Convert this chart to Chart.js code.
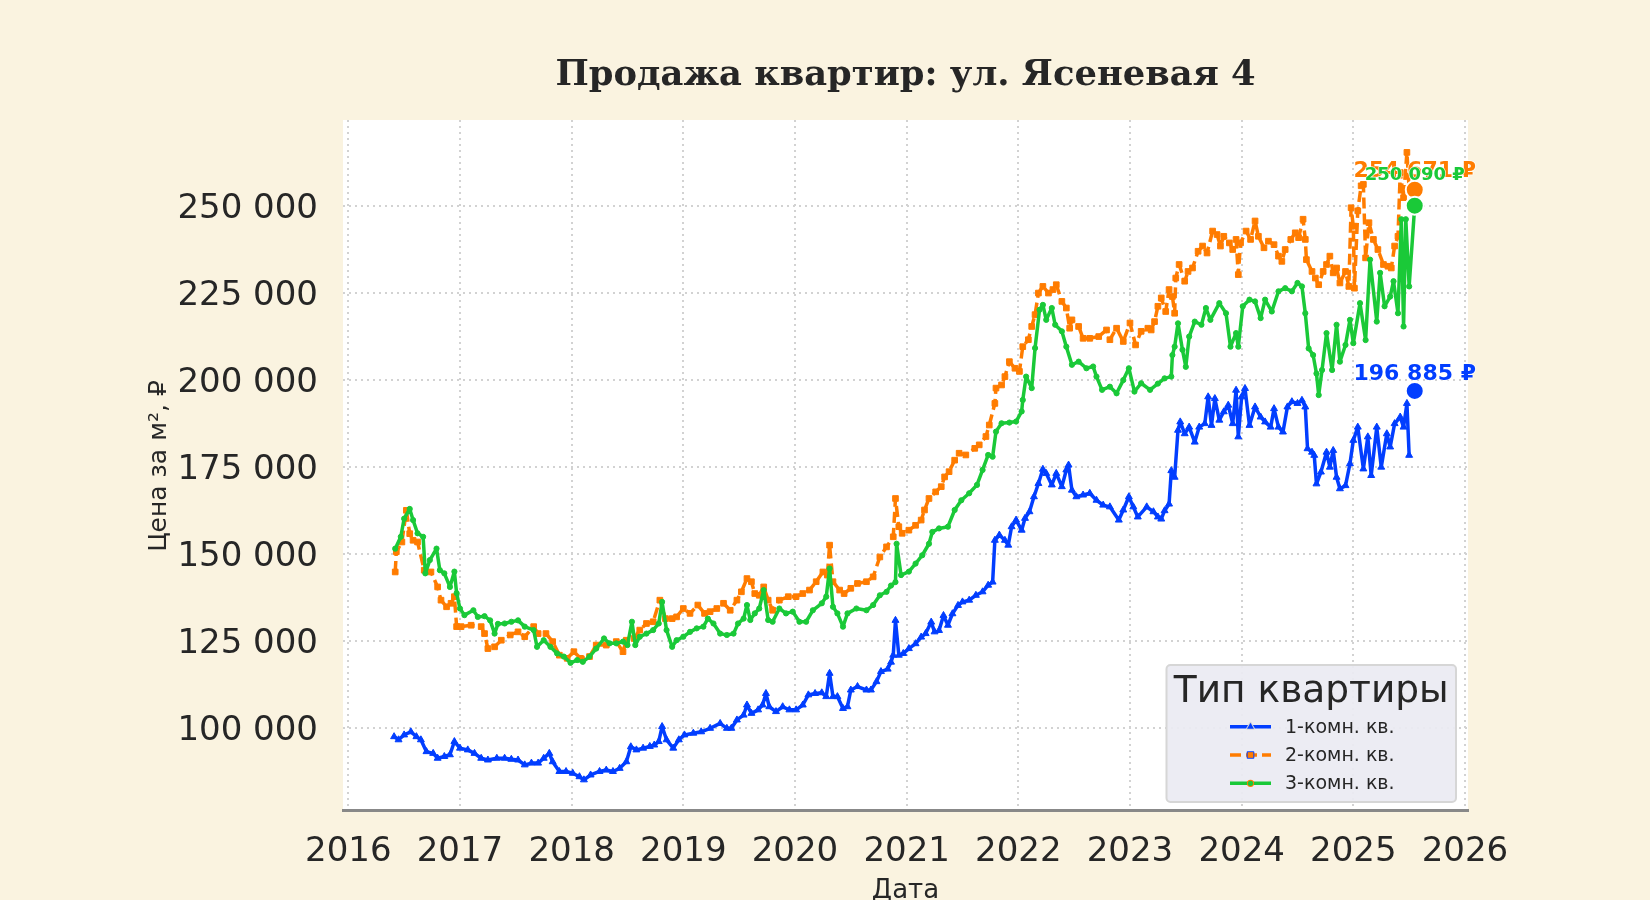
<!DOCTYPE html>
<html lang="ru">
<head>
<meta charset="utf-8">
<title>Продажа квартир: ул. Ясеневая 4</title>
<script src="https://cdn.jsdelivr.net/npm/chart.js@4.4.1/dist/chart.umd.min.js"></script>
<style>
  html, body { margin: 0; padding: 0; background: #faf3e0; overflow: hidden; }
  canvas { display: block; }
</style>
</head>
<body>
<canvas id="chart" width="1650" height="900"></canvas>
<script>
const titleText = "Продажа квартир: ул. Ясеневая 4";
const xTitle = "Дата";
const yTitle = "Цена за м², ₽";
const legendTitle = "Тип квартиры";
const seriesNames = ["1-комн. кв.", "2-комн. кв.", "3-комн. кв."];

const xTicks = [2016, 2017, 2018, 2019, 2020, 2021, 2022, 2023, 2024, 2025, 2026];
const yTicks = [100000, 125000, 150000, 175000, 200000, 225000, 250000];

// 1-комн.
const dates1 = [
  2016.41, 2016.45, 2016.50, 2016.56, 2016.61, 2016.65, 2016.70, 2016.76, 2016.80, 2016.86, 2016.91, 2016.95,
  2017.00, 2017.07, 2017.13, 2017.19, 2017.25, 2017.33, 2017.40, 2017.46, 2017.52, 2017.58, 2017.64, 2017.70,
  2017.75, 2017.80, 2017.83, 2017.89, 2017.95, 2018.01, 2018.07, 2018.11, 2018.17, 2018.25, 2018.31, 2018.37,
  2018.43, 2018.49, 2018.53, 2018.58, 2018.64, 2018.70, 2018.74, 2018.78, 2018.81, 2018.85, 2018.91, 2018.96,
  2019.01, 2019.09, 2019.16, 2019.24, 2019.33, 2019.39, 2019.43, 2019.48, 2019.54, 2019.57, 2019.61, 2019.67,
  2019.71, 2019.74, 2019.77, 2019.83, 2019.89, 2019.95, 2020.01, 2020.07, 2020.12, 2020.18, 2020.24, 2020.28,
  2020.31, 2020.34, 2020.38, 2020.43, 2020.47, 2020.50, 2020.56, 2020.64, 2020.68, 2020.73, 2020.77, 2020.83,
  2020.86, 2020.88, 2020.90, 2020.93, 2020.97, 2021.02, 2021.08, 2021.13, 2021.17, 2021.22, 2021.25, 2021.29,
  2021.33, 2021.37, 2021.41, 2021.46, 2021.50, 2021.56, 2021.62, 2021.68, 2021.73, 2021.77, 2021.79, 2021.83,
  2021.88, 2021.91, 2021.94, 2021.98, 2022.03, 2022.06, 2022.10, 2022.14, 2022.18, 2022.22, 2022.25, 2022.30,
  2022.34, 2022.39, 2022.43, 2022.45, 2022.48, 2022.52, 2022.58, 2022.64, 2022.70, 2022.76, 2022.82, 2022.90,
  2022.94, 2022.99, 2023.03, 2023.07, 2023.15, 2023.21, 2023.25, 2023.28, 2023.31, 2023.35, 2023.37, 2023.40,
  2023.43, 2023.45, 2023.49, 2023.53, 2023.58, 2023.62, 2023.67, 2023.70, 2023.73, 2023.76, 2023.80, 2023.84,
  2023.88, 2023.92, 2023.95, 2023.97, 2024.00, 2024.03, 2024.07, 2024.12, 2024.17, 2024.21, 2024.26, 2024.29,
  2024.33, 2024.37, 2024.41, 2024.45, 2024.50, 2024.54, 2024.57, 2024.59, 2024.63, 2024.65, 2024.67, 2024.71,
  2024.76, 2024.79, 2024.82, 2024.85, 2024.88, 2024.93, 2024.97, 2025.00, 2025.04, 2025.09, 2025.13, 2025.16,
  2025.21, 2025.25, 2025.30, 2025.33, 2025.37, 2025.42, 2025.45, 2025.48, 2025.50
];
const prices1 = [
  97600, 96700, 98100, 99000, 97600, 96700, 93300, 92800, 91400, 91900, 92400, 96200,
  94300, 93800, 92800, 91400, 90900, 91400, 91400, 91100, 90900, 89500, 90000, 90000,
  91400, 92800, 90400, 87600, 87600, 87100, 86100, 85200, 86600, 87600, 88000, 87600,
  88500, 90400, 94700, 93800, 94300, 94800, 95200, 96200, 100500, 96700, 94300, 96700,
  98100, 98600, 99000, 100000, 101400, 100000, 100000, 102400, 103800, 106700, 104300, 105300,
  106700, 110000, 106200, 104800, 106200, 105300, 105300, 106700, 109600, 110000, 110200, 109100,
  115800, 109100, 109100, 105700, 106200, 111000, 112000, 111000, 111000, 113400, 116300, 117000,
  119000, 121000, 131000, 121000, 121500, 122900, 124300, 126200, 127200, 130500, 127700, 128100,
  132400, 129600, 132900, 135300, 136300, 136800, 138200, 139200, 141100, 142000, 154000, 155500,
  154000, 152600, 157900, 159800, 156900, 160300, 162200, 166500, 170300, 174400, 173200, 169900,
  173200, 169400, 174200, 175600, 168400, 166500, 167000, 167500, 165500, 164100, 163600, 159800,
  162700, 166500, 163600, 160700, 163600, 162200, 160700, 160100, 162500, 164400, 174000, 172100,
  185600, 188000, 184600, 186500, 182200, 186500, 187500, 195200, 187000, 194700, 188500, 190900,
  192800, 187500, 197100, 183700, 195200, 197600, 187000, 192300, 189400, 188000, 186500, 191800,
  186500, 185100, 192300, 193800, 193300, 194200, 192300, 180300, 179300, 178400, 170200, 173600,
  179300, 175000, 179800, 172100, 168800, 169700, 176000, 182700, 186500, 174500, 183700, 172600,
  186500, 175000, 184600, 180800, 187500, 189400, 186500, 193300, 178400
];

// 2-комн.
const dates2 = [
  2016.42, 2016.43, 2016.48, 2016.52, 2016.55, 2016.58, 2016.62, 2016.68, 2016.74, 2016.80, 2016.83, 2016.88,
  2016.92, 2016.95, 2016.97, 2017.01, 2017.10, 2017.19, 2017.22, 2017.25, 2017.31, 2017.37, 2017.45, 2017.52,
  2017.58, 2017.66, 2017.70, 2017.77, 2017.83, 2017.89, 2017.96, 2018.02, 2018.08, 2018.16, 2018.22, 2018.31,
  2018.40, 2018.46, 2018.49, 2018.56, 2018.61, 2018.67, 2018.73, 2018.79, 2018.84, 2018.90, 2018.94, 2019.00,
  2019.06, 2019.13, 2019.19, 2019.24, 2019.30, 2019.36, 2019.42, 2019.48, 2019.52, 2019.57, 2019.61, 2019.64,
  2019.68, 2019.72, 2019.76, 2019.80, 2019.86, 2019.94, 2020.01, 2020.07, 2020.13, 2020.19, 2020.25, 2020.29,
  2020.31, 2020.34, 2020.40, 2020.44, 2020.50, 2020.56, 2020.64, 2020.70, 2020.76, 2020.82, 2020.88, 2020.90,
  2020.93, 2020.96, 2021.02, 2021.08, 2021.13, 2021.16, 2021.20, 2021.26, 2021.31, 2021.34, 2021.38, 2021.43,
  2021.47, 2021.53, 2021.61, 2021.65, 2021.71, 2021.74, 2021.79, 2021.80, 2021.85, 2021.88, 2021.92, 2021.97,
  2022.01, 2022.04, 2022.09, 2022.12, 2022.15, 2022.18, 2022.22, 2022.27, 2022.31, 2022.34, 2022.39, 2022.43,
  2022.46, 2022.48, 2022.54, 2022.58, 2022.64, 2022.72, 2022.79, 2022.82, 2022.88, 2022.94, 2023.00, 2023.05,
  2023.10, 2023.16, 2023.19, 2023.22, 2023.25, 2023.28, 2023.32, 2023.35, 2023.38, 2023.40, 2023.41, 2023.44,
  2023.49, 2023.52, 2023.56, 2023.61, 2023.65, 2023.69, 2023.74, 2023.78, 2023.81, 2023.84, 2023.89, 2023.92,
  2023.95, 2023.97, 2023.99, 2024.04, 2024.08, 2024.12, 2024.15, 2024.20, 2024.24, 2024.29, 2024.33, 2024.36,
  2024.39, 2024.44, 2024.48, 2024.51, 2024.55, 2024.57, 2024.58, 2024.63, 2024.66, 2024.69, 2024.73, 2024.76,
  2024.79, 2024.82, 2024.85, 2024.88, 2024.93, 2024.96, 2024.98, 2025.00, 2025.01, 2025.04, 2025.07, 2025.09,
  2025.11, 2025.14, 2025.18, 2025.22, 2025.27, 2025.31, 2025.34, 2025.37, 2025.40, 2025.42, 2025.45, 2025.48,
  2025.50, 2025.55
];
const prices2 = [
  144900, 150700, 153500, 162600, 155900, 154000, 153500, 145400, 144900, 140600, 136800, 134900,
  135900, 137800, 129200, 129200, 129600, 129200, 127200, 122900, 123400, 125300, 126800, 127700,
  126300, 129200, 127200, 127200, 124900, 121000, 120100, 122000, 120100, 120600, 123900, 123900,
  124900, 122000, 125300, 125800, 128200, 130100, 130600, 136800, 131500, 131500, 132000, 134400,
  133000, 135400, 133000, 133500, 134400, 135900, 133900, 136800, 139200, 143000, 142100, 138700,
  138200, 140600, 136800, 133900, 136800, 137800, 137800, 138700, 139700, 142100, 144900, 144000,
  152600, 142100, 139700, 138700, 140200, 141600, 142100, 143500, 149200, 152100, 155000, 166000,
  157900, 156000, 156900, 158300, 159800, 162700, 166000, 167900, 169400, 172200, 173700, 177000,
  179000, 178500, 180400, 181400, 183800, 187100, 193300, 197700, 198600, 201000, 205300, 203400,
  202500, 209600, 211600, 215400, 218800, 225000, 226900, 225000, 226000, 227400, 222600, 220700,
  214900, 217300, 215400, 212000, 212000, 212500, 214400, 211600, 214900, 211100, 216400, 210100,
  214000, 214900, 214400, 216800, 221200, 223600, 219700, 226000, 224000, 219200, 229300, 233200,
  228400, 231200, 232200, 237000, 238500, 236500, 242800, 241800, 238500, 241300, 239400, 237500,
  240400, 230300, 239400, 242800, 240400, 245700, 241300, 238000, 239900, 238900, 235600, 234100,
  237500, 240400, 242300, 240900, 246200, 240400, 234600, 231200, 229300, 227400, 231200, 233200,
  235600, 230800, 232200, 227900, 231200, 226900, 249500, 244200, 226400, 248600, 255800, 256200,
  235100, 245200, 240400, 237500, 233200, 232700, 232200, 238500, 241300, 259600, 252400, 265400,
  254800, 254671
];

// 3-комн.
const dates3 = [
  2016.42, 2016.47, 2016.50, 2016.55, 2016.58, 2016.62, 2016.67, 2016.69, 2016.73, 2016.79, 2016.82, 2016.86,
  2016.91, 2016.95, 2016.97, 2017.00, 2017.04, 2017.12, 2017.16, 2017.22, 2017.27, 2017.31, 2017.34, 2017.40,
  2017.46, 2017.52, 2017.58, 2017.66, 2017.69, 2017.75, 2017.81, 2017.87, 2017.93, 2017.99, 2018.05, 2018.10,
  2018.16, 2018.22, 2018.29, 2018.34, 2018.40, 2018.46, 2018.50, 2018.54, 2018.57, 2018.61, 2018.67, 2018.73,
  2018.78, 2018.81, 2018.85, 2018.90, 2018.94, 2019.00, 2019.06, 2019.12, 2019.18, 2019.22, 2019.27, 2019.33,
  2019.39, 2019.45, 2019.49, 2019.54, 2019.57, 2019.60, 2019.64, 2019.68, 2019.72, 2019.76, 2019.80, 2019.86,
  2019.92, 2019.98, 2020.04, 2020.10, 2020.16, 2020.24, 2020.28, 2020.31, 2020.34, 2020.38, 2020.43, 2020.47,
  2020.55, 2020.64, 2020.70, 2020.76, 2020.82, 2020.86, 2020.90, 2020.91, 2020.95, 2021.02, 2021.08, 2021.14,
  2021.20, 2021.23, 2021.29, 2021.37, 2021.43, 2021.49, 2021.56, 2021.63, 2021.68, 2021.73, 2021.77, 2021.80,
  2021.85, 2021.92, 2021.98, 2022.03, 2022.04, 2022.07, 2022.12, 2022.15, 2022.19, 2022.22, 2022.25, 2022.30,
  2022.33, 2022.39, 2022.43, 2022.48, 2022.54, 2022.61, 2022.67, 2022.70, 2022.75, 2022.82, 2022.88, 2022.94,
  2022.99, 2023.04, 2023.10, 2023.18, 2023.25, 2023.31, 2023.37, 2023.38, 2023.40, 2023.43, 2023.47, 2023.50,
  2023.53, 2023.58, 2023.64, 2023.68, 2023.72, 2023.80, 2023.86, 2023.90, 2023.95, 2023.97, 2024.01, 2024.07,
  2024.12, 2024.17, 2024.21, 2024.27, 2024.33, 2024.39, 2024.45, 2024.50, 2024.54, 2024.57, 2024.60, 2024.64,
  2024.67, 2024.69, 2024.72, 2024.76, 2024.81, 2024.85, 2024.88, 2024.93, 2024.97, 2025.00, 2025.06, 2025.11,
  2025.15, 2025.21, 2025.24, 2025.28, 2025.33, 2025.36, 2025.40, 2025.43, 2025.45, 2025.47, 2025.50, 2025.55
];
const prices3 = [
  151600, 155000, 160200, 163000, 159800, 156000, 155000, 144500, 148300, 151600, 145400, 144500,
  140600, 145000, 138800, 134400, 132500, 133900, 132000, 132200, 131000, 127200, 130000, 130100,
  130600, 131000, 129200, 128200, 123400, 125300, 123400, 121500, 120600, 118800, 119600, 119100,
  120600, 122900, 125800, 124400, 124400, 124900, 123900, 130600, 123900, 126300, 127200, 128200,
  130100, 136300, 128200, 123400, 125300, 126300, 127700, 128700, 129200, 131500, 130100, 127200,
  126800, 127200, 130100, 131500, 135400, 131100, 133000, 134400, 139700, 131100, 130600, 134400,
  133000, 133500, 130600, 130600, 133900, 135900, 137800, 145900, 134900, 133000, 129200, 133000,
  134400, 133900, 135400, 138200, 139200, 141000, 142000, 153000, 144000, 145000, 147300, 149700,
  153000, 156400, 157400, 157900, 162700, 165500, 167500, 169900, 174200, 178500, 178000, 185200,
  187600, 187800, 188100, 191000, 194300, 201000, 197700, 209200, 220200, 221600, 217300, 220700,
  215900, 214000, 209600, 204400, 205300, 203400, 203900, 201000, 197200, 198100, 196200, 200000,
  203400, 196700, 199100, 197200, 199000, 200500, 201000, 207200, 209600, 216300, 208700, 203800,
  212500, 216800, 215900, 220700, 217300, 222100, 219200, 209600, 213500, 209600, 221200, 223100,
  222600, 217800, 223100, 219700, 225500, 226400, 225500, 227900, 226900, 219200, 209100, 207200,
  201900, 195700, 202900, 213500, 202900, 215900, 205300, 210100, 217300, 210600, 222100, 211500,
  234600, 216800, 230800, 221200, 224000, 228400, 219200, 246200, 215400, 246200, 226900, 250090
];

// последняя цена по каждому типу
const lastDate = 2025.55;
const lastPrices = [196885, 254671, 250090];

const colors = ["#023eff", "#ff7c00", "#1ac938"];
const ink = "#262626";

function fmt(v) {
  return String(Math.round(v)).replace(/\B(?=(\d{3})+(?!\d))/g, " ");
}

function pts(d, p) {
  return d.map((x, i) => ({ x: x, y: p[i] }));
}

const decor = {
  id: "decor",
  beforeDraw(chart) {
    const c = chart.ctx, a = chart.chartArea;
    c.save();
    c.fillStyle = "#faf3e0";
    c.fillRect(0, 0, chart.width, chart.height);
    c.fillStyle = "#ffffff";
    c.fillRect(a.left, a.top, a.right - a.left, a.bottom - a.top);
    c.restore();
  },
  afterDraw(chart) {
    const c = chart.ctx, a = chart.chartArea;
    const cx = (a.left + a.right) / 2;
    c.save();
    c.fillStyle = ink;

    c.font = 'bold 35.3px "DejaVu Serif"';
    c.textAlign = "center";
    c.textBaseline = "alphabetic";
    c.fillText(titleText, cx, 85);

    c.font = '26px "DejaVu Sans"';
    c.fillText(xTitle, cx, 898);

    c.save();
    c.translate(159, (a.top + a.bottom) / 2 + 1);
    c.rotate(-Math.PI / 2);
    c.font = '25px "DejaVu Sans"';
    c.textBaseline = "middle";
    c.fillText(yTitle, 0, 0);
    c.restore();

    // подписи последних значений
    const dots = chart.getDatasetMeta(3).data;
    const lab = [{ size: 22, dy: -11 }, { size: 22, dy: -13 }, { size: 18, dy: -26 }];
    [0, 1, 2].forEach(i => {
      const p = dots[i];
      c.font = "bold " + lab[i].size + 'px "DejaVu Sans"';
      c.textAlign = "center";
      c.textBaseline = "alphabetic";
      const t = fmt(lastPrices[i]) + " ₽";
      c.lineWidth = 1.5;
      c.strokeStyle = "rgba(255,255,255,0.8)";
      c.lineJoin = "round";
      c.strokeText(t, p.x, p.y + lab[i].dy);
      c.fillStyle = colors[i];
      c.fillText(t, p.x, p.y + lab[i].dy);
    });

    // легенда
    const bx = 1166.5, by = 665, bw = 289.5, bh = 137;
    c.beginPath();
    c.roundRect(bx, by, bw, bh, 4);
    c.fillStyle = "rgba(234,234,242,0.92)";
    c.fill();
    c.lineWidth = 2;
    c.strokeStyle = "#d6d6d6";
    c.stroke();

    c.fillStyle = ink;
    c.font = '37.5px "DejaVu Sans"';
    c.textAlign = "center";
    c.fillText(legendTitle, bx + bw / 2, 701.5);

    const rows = [726.7, 755, 783.3];
    const ds = chart.data.datasets;
    seriesNames.forEach((name, i) => {
      const y = rows[i];
      c.save();
      c.strokeStyle = colors[i];
      c.lineWidth = 3.5;
      c.setLineDash(ds[i].borderDash || []);
      c.beginPath();
      c.moveTo(1230, y);
      c.lineTo(1271, y);
      c.stroke();
      c.restore();
      Chart.helpers.drawPoint(c, {
        pointStyle: ds[i].pointStyle,
        radius: ds[i].pointRadius,
        borderWidth: 1,
        rotation: 0
      }, 1250.5, y);
      c.fillStyle = colors[i];
      c.strokeStyle = colors[i];
      c.fill();
      c.fillStyle = ink;
      c.font = '19px "DejaVu Sans"';
      c.textAlign = "left";
      c.textBaseline = "middle";
      c.fillText(name, 1285, y + 1);
    });
    c.restore();
  }
};

const line = (i, d, p, extra) => Object.assign({
  label: seriesNames[i],
  data: pts(d, p),
  borderColor: colors[i],
  backgroundColor: colors[i],
  pointBackgroundColor: colors[i],
  pointBorderColor: colors[i],
  borderWidth: 3.5,
  pointBorderWidth: 1,
  borderJoinStyle: "round",
  tension: 0,
  order: 3 - i
}, extra);

new Chart(document.getElementById("chart"), {
  type: "line",
  data: {
    datasets: [
      line(0, dates1, prices1, { pointStyle: "triangle", pointRadius: 4 }),
      line(1, dates2, prices2, { pointStyle: "rect", pointRadius: 4, borderDash: [11, 5] }),
      line(2, dates3, prices3, { pointStyle: "circle", pointRadius: 2.6 }),
      {
        label: "last",
        data: lastPrices.map(v => ({ x: lastDate, y: v })),
        showLine: false,
        pointRadius: 9,
        pointBackgroundColor: colors,
        pointBorderColor: "#ffffff",
        pointBorderWidth: 2,
        order: 0
      }
    ]
  },
  options: {
    responsive: false,
    animation: false,
    devicePixelRatio: 1,
    layout: { padding: { left: 0, right: 182, top: 120, bottom: 0 } },
    plugins: {
      legend: { display: false },
      title: { display: false },
      tooltip: { enabled: false }
    },
    scales: {
      x: {
        type: "linear",
        min: 2015.9525,
        max: 2026.027,
        afterFit: s => { s.height = 90; },
        afterBuildTicks: s => { s.ticks = xTicks.map(v => ({ value: v })); },
        ticks: {
          callback: v => String(v),
          color: ink,
          font: { family: "DejaVu Sans", size: 34 },
          padding: 22,
          maxRotation: 0,
          autoSkip: false
        },
        grid: { color: "#d2d2d2", lineWidth: 2, drawTicks: false },
        border: { display: true, color: "#888888", width: 3, dash: [2, 4] }
      },
      y: {
        min: 76537,
        max: 274698,
        afterFit: s => { s.width = 343; },
        afterBuildTicks: s => { s.ticks = yTicks.map(v => ({ value: v })); },
        ticks: {
          callback: v => fmt(v),
          color: ink,
          font: { family: "DejaVu Sans", size: 34 },
          padding: 25,
          labelOffset: 3
        },
        grid: { color: "#d2d2d2", lineWidth: 2, drawTicks: false },
        border: { display: false, dash: [2, 4] }
      }
    }
  },
  plugins: [decor]
});
</script>
</body>
</html>
